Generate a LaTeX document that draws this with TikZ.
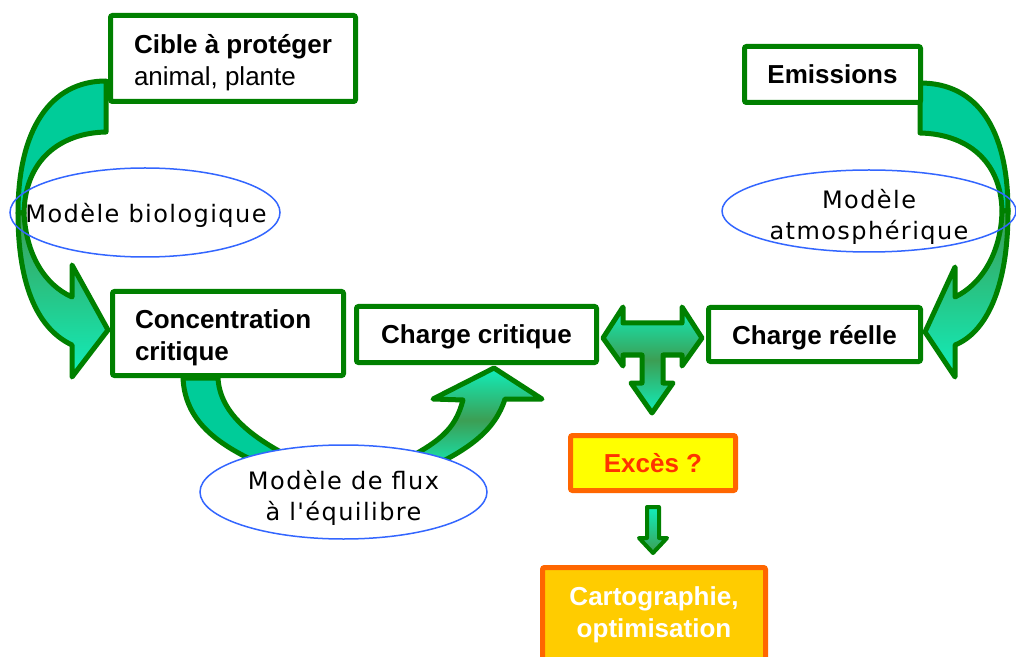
\documentclass[tikz,border=0pt]{standalone}
\usepackage{fontspec}
\setmainfont{Liberation Sans}
\newfontfamily\modelfont[LetterSpace=6]{DejaVu Sans}
\newcommand{\topGap}{\rule{0pt}{14pt}}

\begin{document}
\begin{tikzpicture}[x=0.5pt,y=-0.5pt,
  boxNode/.style={draw=boxColor,line width=2.5pt,fill=white,rounded corners=1pt,inner xsep=11.25pt,inner ysep=0pt,font=\fontsize{13}{16}\selectfont\bfseries},
  alertNode/.style={draw=alertColor,line width=2.5pt,rounded corners=1pt,inner sep=0pt,align=center,font=\fontsize{13}{16}\selectfont\bfseries},
  modelText/.style={inner sep=0pt,align=center,font=\modelfont\fontsize{12}{15.5}\selectfont},
  modelEdge/.style={draw=modelColor,line width=0.75pt},
  arrowEdge/.style={draw=boxColor,line width=2.5pt,line join=round}]
\definecolor{fillColor}{RGB}{255,255,255}
\definecolor{boxColor}{RGB}{0,128,0}
\definecolor{arrowTeal}{RGB}{0,204,153}
\definecolor{arrowDark}{RGB}{60,158,84}
\definecolor{arrowBright}{RGB}{17,238,187}
\definecolor{modelColor}{RGB}{51,102,255}
\definecolor{alertColor}{RGB}{255,102,0}
\definecolor{alertFill}{RGB}{255,255,0}
\definecolor{alertText}{RGB}{255,51,0}
\definecolor{mapFill}{RGB}{255,204,0}
\path[use as bounding box,fill=fillColor] (0,0) rectangle (1016,657);

% biological model arrow
\path[arrowEdge,fill=arrowTeal] (106,81) .. controls (50,81) and (18,130) .. (18,213) --
	(24,213) .. controls (25,160) and (60,133) .. (106,132) -- cycle;
\path[arrowEdge,top color=arrowDark,bottom color=arrowBright] (18,213) .. controls (18,290) and (40,330) .. (72,345) --
	(72,377) -- (108,330) -- (72,265) -- (72,297) .. controls (45,285) and (26,255) .. (24,213) -- cycle;

% atmospheric model arrow
\path[arrowEdge,fill=arrowTeal] (920,83) .. controls (978,83) and (1008,130) .. (1008,211) --
	(1002,211) .. controls (1001,160) and (966,134) .. (920,133) -- cycle;
\path[arrowEdge,top color=arrowDark,bottom color=arrowBright] (1008,211) .. controls (1008,290) and (985,333) .. (955,345) --
	(955,377) -- (925,332) -- (955,267) -- (955,297) .. controls (980,285) and (1001,255) .. (1002,211) -- cycle;

% flux model arrow
\path[arrowEdge,fill=arrowTeal] (183,378) .. controls (185,420) and (215,445) .. (270,468) --
	(300,462) .. controls (255,440) and (220,415) .. (218,378) -- cycle;
\path[arrowEdge,top color=arrowBright,bottom color=arrowBright,middle color=arrowDark] (463,400) .. controls (455,430) and (440,442) .. (395,465) --
	(420,472) .. controls (470,450) and (495,430) .. (505,399) --
	(542,399) -- (494,368) -- (433,399) -- cycle;

% comparison arrow
\path[arrowEdge,top color=arrowBright,bottom color=arrowBright,middle color=arrowDark] (603,338) -- (623,307) -- (623,323) -- (682,323) -- (682,307) --
	(702,338) -- (682,366) -- (682,355) -- (663,355) -- (663,383) -- (673,383) --
	(652,413) -- (631,383) -- (642,383) -- (642,355) -- (623,355) -- (623,366) -- cycle;

% small arrow
\path[draw=boxColor,line width=2pt,line join=round,top color=arrowBright,bottom color=arrowDark] (647,507) -- (659,507) -- (659,538) --
	(667,538) -- (653,553) -- (639,538) -- (647,538) -- cycle;

\node[boxNode,align=left,minimum width=122.5pt,minimum height=43pt] (cible) at (233,58.5) {\topGap Cible à protéger\\\mdseries animal, plante};
\node[boxNode,text depth=0pt,minimum width=88pt,minimum height=28pt] (emissions) at (832.5,74.5) {Emissions};
\node[boxNode,text width=93pt,align=left,minimum height=42pt] (concentration) at (228,333.5) {\topGap Concentration\\critique};
\node[boxNode,text depth=0pt,minimum width=120pt,minimum height=28pt] (chargeCritique) at (476.5,334.5) {Charge critique};
\node[boxNode,text depth=0pt,minimum width=106pt,minimum height=27pt] (chargeReelle) at (814.5,334.5) {Charge réelle};

\node[alertNode,fill=alertFill,text=alertText,minimum width=82.5pt,minimum height=27.5pt] (exces) at (653,463) {Excès ?};
\node[alertNode,fill=mapFill,text=white,minimum width=111.5pt,minimum height=47.25pt] (carto) at (654,614.75) {Cartographie,\\optimisation};

% model ellipses
\path[modelEdge] (145,212.5) ellipse [x radius=67.5pt,y radius=22.25pt];
\node[modelText] (bio) at (146,215.5) {Modèle biologique};
\path[modelEdge] (869,211) ellipse [x radius=73.5pt,y radius=20.5pt];
\node[modelText] (atmo) at (869,217) {Modèle\\atmosphérique};
\path[modelEdge,fill=white] (343.5,492) ellipse [x radius=71.75pt,y radius=23.5pt];
\node[modelText] (flux) at (343.5,498) {Modèle de flux\\à l'équilibre};
\end{tikzpicture}
\end{document}
